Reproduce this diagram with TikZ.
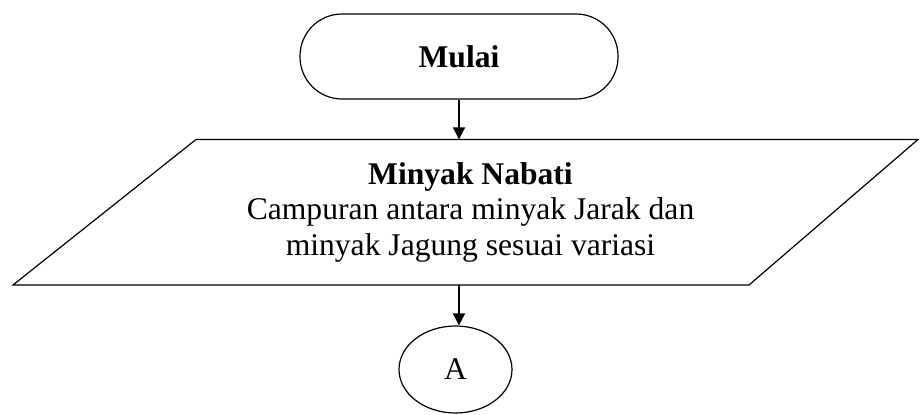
\documentclass[tikz,border=0pt]{standalone}
\usepackage{fontspec}
\setmainfont{Liberation Serif}
\usetikzlibrary{shapes.geometric,arrows.meta}

\begin{document}
\begin{tikzpicture}[x=0.5pt,y=-0.5pt,
  font=\fontsize{15.8}{17.75}\selectfont,
  garis/.style={line width=0.6pt},
  panah/.style={line width=0.9pt,-{Triangle[length=6pt,width=6pt]}}]
\useasboundingbox (0,0) rectangle (920,415);
\path
(459,56.5) node[garis,draw,rectangle,rounded corners=21pt,minimum width=159pt,minimum height=42.5pt](mulai){\textbf{Mulai}}
(470.5,212.25) node[minimum height=72.5pt,align=center,inner sep=0pt](nabati){\textbf{Minyak Nabati}\\Campuran antara minyak Jarak dan\\minyak Jagung sesuai variasi}
(455.5,369.5) node[garis,draw,ellipse,minimum width=56.5pt,minimum height=43.5pt,inner sep=0pt](a){A};
\path[draw,garis] (13,285)--(196,139.5)--(918,139.5)--(749,285)--cycle;
\path[draw,panah] (mulai)--(mulai |- nabati.north);
\path[draw,panah] (mulai |- nabati.south)--(mulai |- a.north);
\end{tikzpicture}
\end{document}
